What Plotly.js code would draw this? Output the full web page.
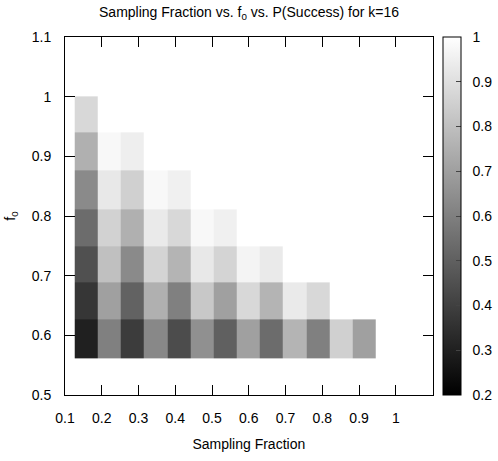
<!DOCTYPE html>
<html>
<head>
<meta charset="utf-8">
<script src="https://cdn.plot.ly/plotly-3.0.1.min.js"></script>
<style>html,body{margin:0;padding:0;background:#fff;}#chart{width:498px;height:461px;}</style>
</head>
<body>
<div id="chart"></div>
<script>
// Sampling fraction (column centres) and f0 (row centres)
var samplingFraction = [0.158, 0.221, 0.284, 0.347, 0.410, 0.473, 0.536, 0.599, 0.662, 0.725, 0.788, 0.851, 0.914];
var f0 = [0.594, 0.659, 0.719, 0.779, 0.844, 0.909, 0.970];

// P(Success), one array per f0 row (bottom to top); null = no measurement
var row_f0_594 = [0.300, 0.602, 0.388, 0.627, 0.438, 0.652, 0.501, 0.702, 0.539, 0.765, 0.602, 0.853, 0.702];
var row_f0_659 = [0.369, 0.702, 0.507, 0.752, 0.602, 0.827, 0.702, 0.878, 0.765, 0.934, 0.878, null, null];
var row_f0_719 = [0.451, 0.802, 0.633, 0.865, 0.765, 0.928, 0.865, 0.965, 0.934, null, null, null, null];
var row_f0_779 = [0.539, 0.858, 0.752, 0.934, 0.878, 0.978, 0.953, null, null, null, null, null, null];
var row_f0_844 = [0.633, 0.928, 0.853, 0.978, 0.953, null, null, null, null, null, null, null, null];
var row_f0_909 = [0.752, 0.978, 0.947, null, null, null, null, null, null, null, null, null, null];
var row_f0_970 = [0.878, null, null, null, null, null, null, null, null, null, null, null, null];
var pSuccess = [row_f0_594, row_f0_659, row_f0_719, row_f0_779, row_f0_844, row_f0_909, row_f0_970];

var xTickVals = [0.1, 0.2, 0.3, 0.4, 0.5, 0.6, 0.7, 0.8, 0.9, 1.0];
var xTickText = ['0.1', '0.2', '0.3', '0.4', '0.5', '0.6', '0.7', '0.8', '0.9', '1'];
var yTickVals = [0.5, 0.6, 0.7, 0.8, 0.9, 1.0, 1.1];
var yTickText = ['0.5', '0.6', '0.7', '0.8', '0.9', '1', '1.1'];
var cbTickVals = [0.2, 0.3, 0.4, 0.5, 0.6, 0.7, 0.8, 0.9, 1.0];
var cbTickText = ['0.2', '0.3', '0.4', '0.5', '0.6', '0.7', '0.8', '0.9', '1'];

var FONT = 'Liberation Sans, Arial, Helvetica, sans-serif';
var PAD = '\u00a0\u00a0';

var trace = {
  type: 'heatmap',
  x: samplingFraction,
  y: f0,
  z: pSuccess,
  zmin: 0.2,
  zmax: 1,
  colorscale: [[0, 'rgb(0,0,0)'], [1, 'rgb(255,255,255)']],
  hoverongaps: false,
  colorbar: {
    x: 0.873, xanchor: 'left', xref: 'paper', xpad: 0,
    y: 0.5, yanchor: 'middle', ypad: 0,
    len: 1, lenmode: 'fraction',
    thickness: 18, thicknessmode: 'pixels',
    outlinewidth: 1, outlinecolor: '#000',
    tickmode: 'array', tickvals: cbTickVals,
    ticktext: cbTickText.map(function (t) { return PAD + t; }),
    ticks: 'inside', ticklen: 5, tickcolor: '#444', tickwidth: 1,
    tickfont: {family: FONT, size: 14, color: '#000'}
  }
};

var axisCommon = {
  showgrid: false, zeroline: false,
  showline: true, linecolor: '#000', linewidth: 1,
  mirror: 'ticks', ticks: 'inside', ticklen: 10, tickcolor: '#000', tickwidth: 1,
  tickfont: {family: FONT, size: 14, color: '#000'},
  tickmode: 'array'
};

var layout = {
  width: 498, height: 461,
  margin: {l: 65, r: 0, t: 37, b: 66, autoexpand: false},
  paper_bgcolor: '#fff', plot_bgcolor: '#fff',
  font: {family: FONT, size: 14, color: '#000'},
  title: {
    text: 'Sampling Fraction vs. f<sub>0</sub> vs. P(Success) for k=16',
    font: {family: FONT, size: 14, color: '#000'},
    x: 249 / 498, xref: 'container', xanchor: 'center',
    y: 1 - 12 / 461, yref: 'container', yanchor: 'middle'
  },
  xaxis: Object.assign({}, axisCommon, {
    domain: [0, 0.849],
    range: [0.1, 1.1],
    tickvals: xTickVals, ticktext: xTickText,
    ticklabelstandoff: 10,
    title: {text: 'Sampling Fraction', font: {family: FONT, size: 14, color: '#000'}, standoff: 14}
  }),
  yaxis: Object.assign({}, axisCommon, {
    range: [0.5, 1.1],
    tickvals: yTickVals, ticktext: yTickText,
    ticklabelstandoff: 10,
    title: {text: 'f<sub>0</sub>', font: {family: FONT, size: 14, color: '#000'}, standoff: 12}
  })
};

Plotly.newPlot('chart', [trace], layout, {displayModeBar: false, staticPlot: true});
</script>
</body>
</html>
